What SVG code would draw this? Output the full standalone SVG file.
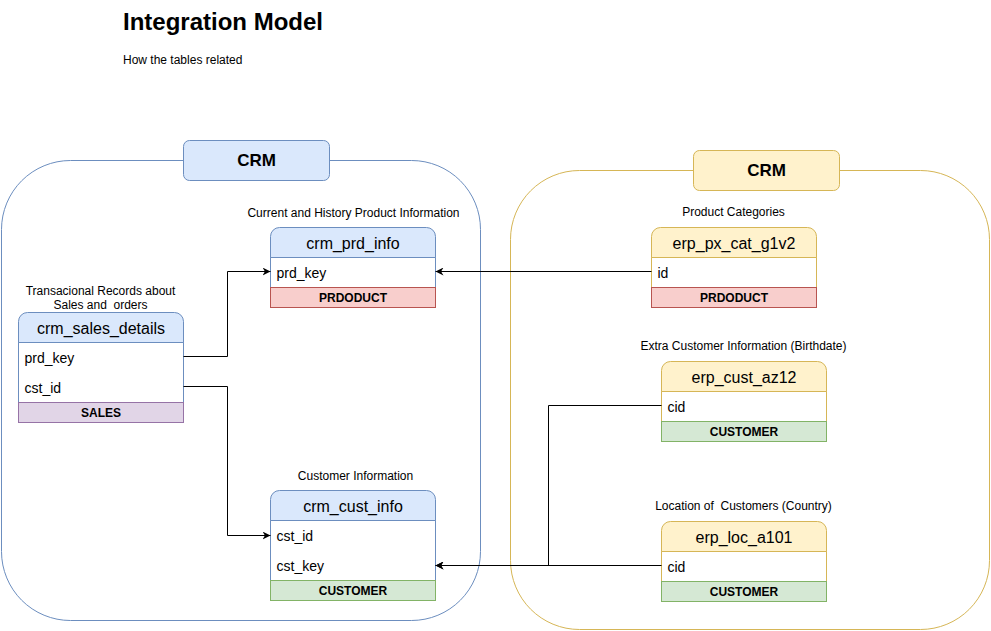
<svg xmlns="http://www.w3.org/2000/svg" width="991" height="631" viewBox="0 0 991 631">
<style>
text{font-family:"Liberation Sans",Arial,Helvetica,sans-serif;fill:#000;white-space:pre}
.title{font-size:24px;font-weight:bold}
.sub{font-size:12px}
.lbl{font-size:12px;text-anchor:middle}
.grp{font-size:17px;font-weight:bold;text-anchor:middle}
.th{font-size:16px;text-anchor:middle}
.fld{font-size:14px}
.ft{font-size:12px;font-weight:bold;text-anchor:middle}
.blue{fill:#dae8fc;stroke:#6c8ebf}
.yel{fill:#fff2cc;stroke:#d6b656}
.bodyB{fill:#fff;stroke:#6c8ebf}
.bodyY{fill:#fff;stroke:#d6b656}
.red{fill:#f8cecc;stroke:#b85450}
.pur{fill:#e1d5e7;stroke:#9673a6}
.grn{fill:#d5e8d4;stroke:#82b366}
.cont{fill:none}
.conn{fill:none;stroke:#000;stroke-width:1}
</style>
<defs>
<marker id="arr" viewBox="0 0 10 10" refX="10" refY="5" markerWidth="8" markerHeight="8" markerUnits="userSpaceOnUse" orient="auto">
<path d="M0,0 L10,5 L0,10 L3,5 Z" fill="#000"/>
</marker>
</defs>
<rect width="991" height="631" fill="#fff"/>
<text class="title" x="123" y="30">Integration Model</text>
<text class="sub" x="123" y="64">How the tables related</text>

<g id="crm-group">
<rect class="cont" x="1.5" y="160.5" width="479" height="460" rx="69" stroke="#6c8ebf" fill="none"/>
<rect class="blue" x="183.5" y="140.5" width="146" height="40" rx="6"/>
<text class="grp" x="256.5" y="166">CRM</text>
</g>
<g id="erp-group">
<rect class="cont" x="510.5" y="170.5" width="479" height="459" rx="69" stroke="#d6b656" fill="none"/>
<rect class="yel" x="693.5" y="150.5" width="146" height="40" rx="6"/>
<text class="grp" x="766.5" y="176">CRM</text>
</g>

<g id="crm_prd_info" transform="translate(270.5,227.5)">
<text class="lbl" x="83" y="-11">Current and History Product Information</text>
<rect class="bodyB" x="0" y="30" width="165" height="30"/>
<path class="blue" d="M0,30 V9 A9,9 0 0 1 9,0 H156 A9,9 0 0 1 165,9 V30 Z"/>
<text class="th" x="82.5" y="21">crm_prd_info</text>
<text class="fld" x="6" y="50">prd_key</text>
<rect class="red" x="0" y="60" width="165" height="20"/>
<text class="ft" x="82.5" y="74">PRDODUCT</text>
</g>

<g id="crm_sales_details" transform="translate(18.5,312.5)">
<text class="lbl" x="82" y="-18">Transacional Records about</text>
<text class="lbl" x="82" y="-4">Sales and  orders</text>
<rect class="bodyB" x="0" y="30" width="165" height="60"/>
<path class="blue" d="M0,30 V9 A9,9 0 0 1 9,0 H156 A9,9 0 0 1 165,9 V30 Z"/>
<text class="th" x="82.5" y="21">crm_sales_details</text>
<text class="fld" x="6" y="50">prd_key</text>
<text class="fld" x="6" y="80">cst_id</text>
<rect class="pur" x="0" y="90" width="165" height="20"/>
<text class="ft" x="82.5" y="104">SALES</text>
</g>

<g id="crm_cust_info" transform="translate(270.5,490.5)">
<text class="lbl" x="85" y="-11">Customer Information</text>
<rect class="bodyB" x="0" y="30" width="165" height="60"/>
<path class="blue" d="M0,30 V9 A9,9 0 0 1 9,0 H156 A9,9 0 0 1 165,9 V30 Z"/>
<text class="th" x="82.5" y="21">crm_cust_info</text>
<text class="fld" x="6" y="50">cst_id</text>
<text class="fld" x="6" y="80">cst_key</text>
<rect class="grn" x="0" y="90" width="165" height="20"/>
<text class="ft" x="82.5" y="104">CUSTOMER</text>
</g>

<g id="erp_px_cat_g1v2" transform="translate(651.5,227.5)">
<text class="lbl" x="82" y="-12">Product Categories</text>
<rect class="bodyY" x="0" y="30" width="165" height="30"/>
<path class="yel" d="M0,30 V9 A9,9 0 0 1 9,0 H156 A9,9 0 0 1 165,9 V30 Z"/>
<text class="th" x="82.5" y="21">erp_px_cat_g1v2</text>
<text class="fld" x="6" y="50">id</text>
<rect class="red" x="0" y="60" width="165" height="20"/>
<text class="ft" x="82.5" y="74">PRDODUCT</text>
</g>

<g id="erp_cust_az12" transform="translate(661.5,361.5)">
<text class="lbl" x="82" y="-12">Extra Customer Information (Birthdate)</text>
<rect class="bodyY" x="0" y="30" width="165" height="30"/>
<path class="yel" d="M0,30 V9 A9,9 0 0 1 9,0 H156 A9,9 0 0 1 165,9 V30 Z"/>
<text class="th" x="82.5" y="21">erp_cust_az12</text>
<text class="fld" x="6" y="50">cid</text>
<rect class="grn" x="0" y="60" width="165" height="20"/>
<text class="ft" x="82.5" y="74">CUSTOMER</text>
</g>

<g id="erp_loc_a101" transform="translate(661.5,521.5)">
<text class="lbl" x="82" y="-12">Location of  Customers (Country)</text>
<rect class="bodyY" x="0" y="30" width="165" height="30"/>
<path class="yel" d="M0,30 V9 A9,9 0 0 1 9,0 H156 A9,9 0 0 1 165,9 V30 Z"/>
<text class="th" x="82.5" y="21">erp_loc_a101</text>
<text class="fld" x="6" y="50">cid</text>
<rect class="grn" x="0" y="60" width="165" height="20"/>
<text class="ft" x="82.5" y="74">CUSTOMER</text>
</g>

<g id="connectors">
<path class="conn" d="M183.5,356.5 H227.5 V271.5 H270.5" marker-end="url(#arr)"/>
<path class="conn" d="M183.5,386.5 H227.5 V535.5 H270.5" marker-end="url(#arr)"/>
<path class="conn" d="M651.5,271.5 H435.5" marker-end="url(#arr)"/>
<path class="conn" d="M661.5,405.5 H548.5 V565.5 H435.5" marker-end="url(#arr)"/>
<path class="conn" d="M661.5,565.5 H435.5" marker-end="url(#arr)"/>
</g>
</svg>
